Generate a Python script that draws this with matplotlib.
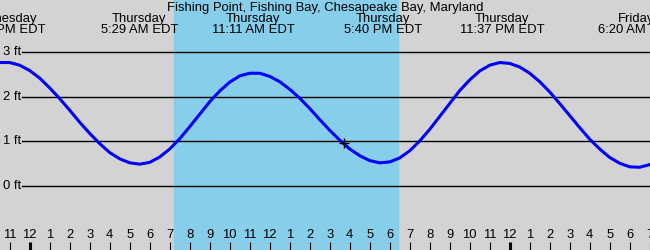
import numpy as np
import matplotlib
matplotlib.use("Agg")
import matplotlib.pyplot as plt

plt.rcParams['font.family'] = ['Liberation Sans', 'DejaVu Sans']
FS = 9.4

# tide heights (ft), every half hour, hours counted from Thursday 00:00
hours = np.arange(-1.5, 31.51, 0.5)
heights = [2.77, 2.77, 2.71, 2.59, 2.42, 2.20, 1.96, 1.70, 1.43, 1.18,
           0.95, 0.75, 0.61, 0.52, 0.49, 0.53, 0.65, 0.83, 1.06, 1.33,
           1.61, 1.89, 2.13, 2.33, 2.47, 2.53, 2.53, 2.46, 2.34, 2.17,
           1.97, 1.74, 1.49, 1.25, 1.03, 0.83, 0.68, 0.57, 0.52, 0.54,
           0.63, 0.79, 1.01, 1.27, 1.56, 1.85, 2.14, 2.38, 2.58, 2.71,
           2.77, 2.75, 2.67, 2.53, 2.34, 2.11, 1.85, 1.58, 1.31, 1.05,
           0.83, 0.64, 0.51, 0.43, 0.42, 0.48, 0.61]

# high / low tide labels
event_hours = [-1.33, 5.483, 11.183, 17.667, 23.617, 30.333]
event_days = ["Wednesday", "Thursday", "Thursday", "Thursday", "Thursday", "Friday"]
event_times = ["10:40 PM EDT", "5:29 AM EDT", "11:11 AM EDT",
               "5:40 PM EDT", "11:37 PM EDT", "6:20 AM EDT"]

# daylight and current position
daylight = (7.2, 18.42)
now_hour, now_height = 15.7, 0.96

ft_levels = [0, 1, 2, 3]
ft_labels = ["0 ft", "1 ft", "2 ft", "3 ft"]

tick_hours = list(range(-1, 32))
tick_labels = ["11", "12", "1", "2", "3", "4", "5", "6", "7", "8", "9", "10", "11",
               "12", "1", "2", "3", "4", "5", "6", "7", "8", "9", "10", "11",
               "12", "1", "2", "3", "4", "5", "6", "7"]
midnights = [0, 24]

title = "Fishing Point, Fishing Bay, Chesapeake Bay, Maryland"

fig = plt.figure(figsize=(6.5, 2.5), dpi=100)
ax = fig.add_axes([0, 0, 1, 1])
ax.set_facecolor('#d3d3d3')
ax.set_xlim(-1.485, 31.015)
ax.set_ylim(-1.436, 4.173)
for s in ax.spines.values():
    s.set_visible(False)
ax.set_xticks([])
ax.set_yticks([])

ax.axvspan(daylight[0], daylight[1], color='#87ceeb', zorder=0)

# horizontal levels
for lev, lab in zip(ft_levels, ft_labels):
    ax.axhline(lev, xmin=22 / 650, color='black', lw=1.0, zorder=1)
    ax.text(0.005, lev, lab, transform=ax.get_yaxis_transform(),
            ha='left', va='center', fontsize=FS)

ax.plot(hours, heights, color='#0000ff', lw=2.2, zorder=3, solid_capstyle='round')
ax.plot(now_hour, now_height, marker='+', color='black', ms=7, mew=1, zorder=4)

# title and tide labels
ax.text(0.5, 1 - 8 / 250, title, transform=ax.transAxes, ha='center', va='center', fontsize=FS)
xt = ax.get_xaxis_transform()
for h, d, t in zip(event_hours, event_days, event_times):
    ax.text(h, 1 - 19 / 250, d, transform=xt, ha='center', va='center', fontsize=FS)
    ax.text(h, 1 - 30 / 250, t, transform=xt, ha='center', va='center', fontsize=FS)

# hour ticks along the bottom
for h, lab in zip(tick_hours, tick_labels):
    w = 2.2 if h in midnights else 0.8
    ax.vlines(h, 0, 8 / 250, transform=xt, color='black', lw=w)
    ax.text(h, 15 / 250, lab, transform=xt, ha='center', va='center', fontsize=FS)

fig.savefig('out.png', dpi=100)
